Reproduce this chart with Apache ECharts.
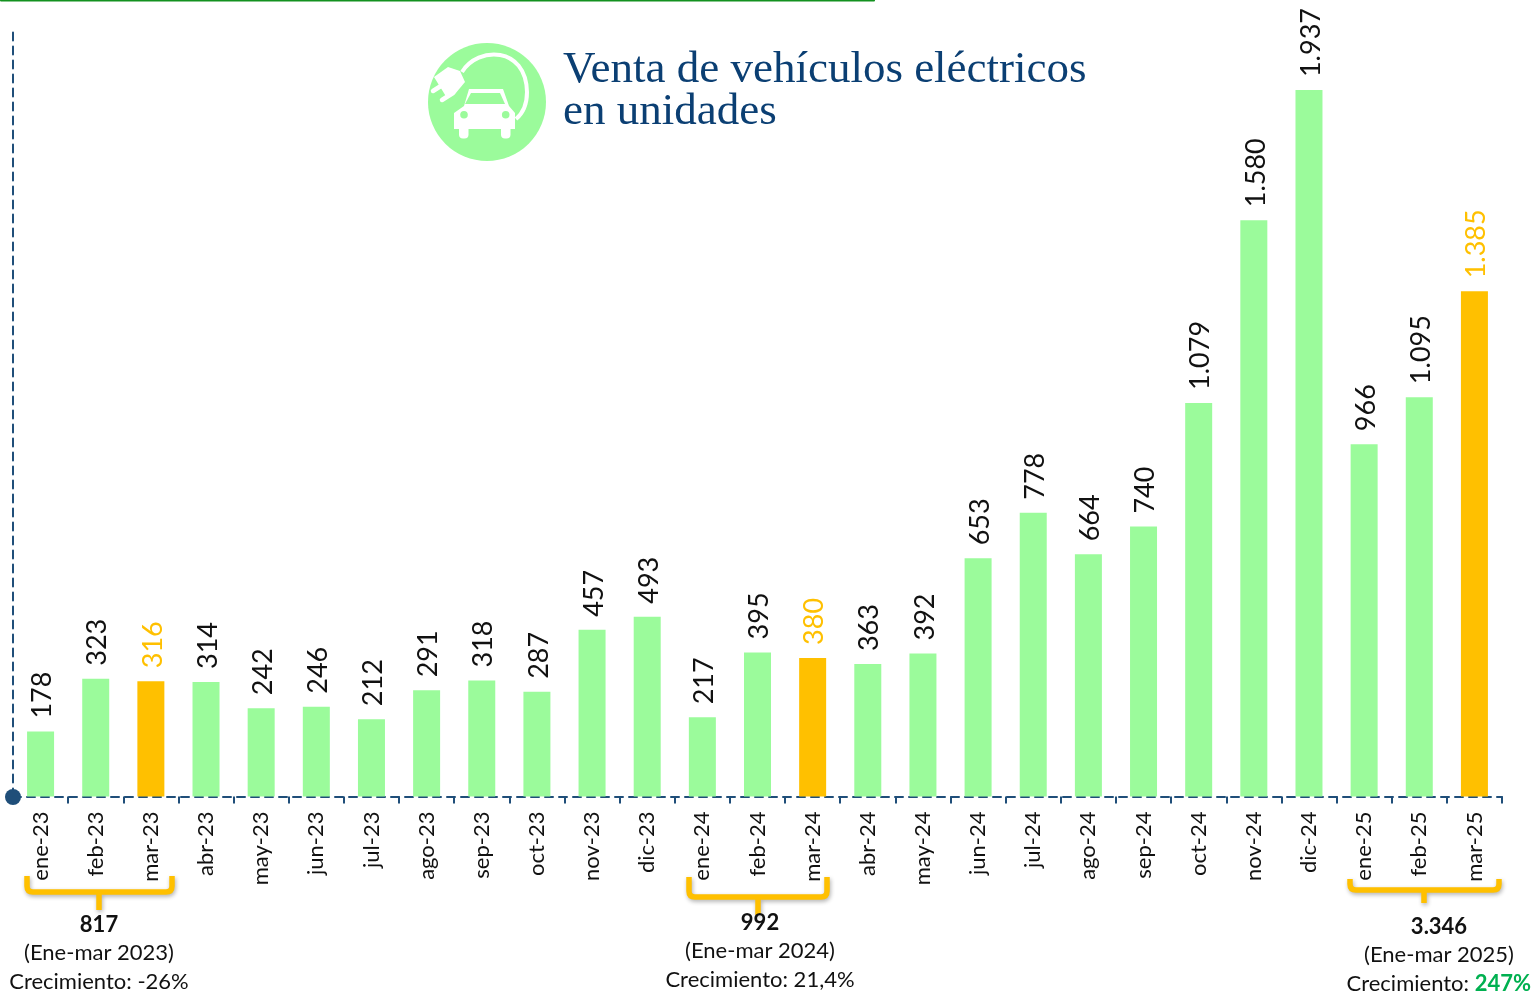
<!DOCTYPE html>
<html>
<head>
<meta charset="utf-8">
<style>html,body{margin:0;padding:0;background:#fff}#c{width:1533px;height:993px}</style>
<script src="https://cdn.jsdelivr.net/npm/echarts@6/dist/echarts.min.js"></script>
</head>
<body>
<div id="c"></div>
<script>
const categories = ['ene-23','feb-23','mar-23','abr-23','may-23','jun-23','jul-23','ago-23','sep-23','oct-23','nov-23','dic-23','ene-24','feb-24','mar-24','abr-24','may-24','jun-24','jul-24','ago-24','sep-24','oct-24','nov-24','dic-24','ene-25','feb-25','mar-25'];
const ventas = [178,323,316,314,242,246,212,291,318,287,457,493,217,395,380,363,392,653,778,664,740,1079,1580,1937,966,1095,1385];
const destacados = ['mar-23','mar-24','mar-25'];
const titulo = ['Venta de vehículos eléctricos','en unidades'];

const GREEN='#9BFB9B', ORANGE='#FFC000', NAVY='#1F4E79', TITLE='#0B3F73';
const SANS='Lato, Carlito, "Noto Sans", sans-serif';
const fmt=v=>String(v).replace(/\B(?=(\d{3})+$)/g,'.');

let pathCount=0;
function pathEl(d,style){
  const name='p'+(pathCount++);
  echarts.graphic.registerShape(name,echarts.graphic.extendPath(d,{}));
  return {type:name,silent:true,style};
}
function brace(x1,x2,top,mid,xs,bot){
  const r=6;
  return pathEl(`M${x1} ${top}V${mid-r}Q${x1} ${mid} ${x1+r} ${mid}H${x2-r}Q${x2} ${mid} ${x2} ${mid-r}V${top}M${xs} ${mid}V${bot}`,
    {fill:null,stroke:ORANGE,lineWidth:5.5,shadowColor:'rgba(0,0,0,0.3)',shadowBlur:4,shadowOffsetX:1,shadowOffsetY:2});
}
const F='22px '+SANS, FB='bold 22px '+SANS;
function txt(x,y,t,o){return {type:'text',silent:true,x,y,style:Object.assign({text:t,fill:'#111',font:F,textAlign:'center',textVerticalAlign:'middle'},o||{})};}

const icono=[
  {type:'circle',silent:true,shape:{cx:487,cy:102,r:59},style:{fill:GREEN}},
  pathEl('M462 72C478 46 526 46 527 92C527 106 522 114 516 119',{fill:null,stroke:'#fff',lineWidth:4}),
  {type:'polygon',silent:true,shape:{points:[[434,77],[448,67],[460,71],[465,82],[455,94],[447,98]]},style:{fill:'#fff'}},
  {type:'line',silent:true,shape:{x1:444,y1:84,x2:433,y2:91},style:{stroke:'#fff',lineWidth:4.5,lineCap:'round'}},
  {type:'line',silent:true,shape:{x1:453,y1:93,x2:442,y2:100},style:{stroke:'#fff',lineWidth:4.5,lineCap:'round'}},
  {type:'polygon',silent:true,shape:{points:[[454,113],[464,106],[469,89],[503,89],[509,106],[515,113],[515,129],[454,129]]},style:{fill:'#fff'}},
  {type:'polygon',silent:true,shape:{points:[[465,104],[471,93],[500,93],[505,104]]},style:{fill:GREEN}},
  {type:'circle',silent:true,shape:{cx:464,cy:114.7,r:3.8},style:{fill:GREEN}},
  {type:'circle',silent:true,shape:{cx:505.7,cy:114.7,r:3.8},style:{fill:GREEN}},
  {type:'rect',silent:true,shape:{x:459,y:128,width:9.5,height:10.5,r:[0,0,4,4]},style:{fill:'#fff'}},
  {type:'rect',silent:true,shape:{x:501,y:128,width:9.5,height:10.5,r:[0,0,4,4]},style:{fill:'#fff'}}
];

const chart=echarts.init(document.getElementById('c'),null,{renderer:'canvas'});
chart.setOption({
  animation:false,
  backgroundColor:'#fff',
  grid:{left:13,right:31,top:30.6,bottom:196.5},
  xAxis:{type:'category',data:categories,boundaryGap:true,
    axisLine:{show:true,lineStyle:{color:NAVY,width:2,type:[8,6]}},
    axisTick:{show:true,length:7,inside:false,alignWithLabel:false,lineStyle:{color:NAVY,width:2}},
    axisLabel:{interval:0,rotate:90,margin:15,color:'#111',fontSize:22,fontFamily:SANS}},
  yAxis:{type:'value',min:0,max:2100,splitLine:{show:false},axisLabel:{show:false},axisTick:{show:false},
    axisLine:{show:true,onZero:false,lineStyle:{color:NAVY,width:2,type:[8,6]}}},
  series:[{type:'bar',barWidth:27,
    data:ventas.map((v,i)=>{const h=destacados.includes(categories[i]);
      return {value:v,itemStyle:{color:h?ORANGE:GREEN},label:{color:h?ORANGE:'#111'}};}),
    label:{show:true,position:'top',distance:13,rotate:90,align:'left',verticalAlign:'middle',offset:[0,2],fontSize:27,fontFamily:SANS,formatter:p=>fmt(p.value)}}],
  graphic:[
    {type:'rect',silent:true,shape:{x:0,y:-1,width:875,height:2.5,r:1},style:{fill:'#13911F'}},
    {type:'circle',silent:true,shape:{cx:13,cy:797,r:8},style:{fill:NAVY}},
    ...icono,
    txt(563,70,titulo[0],{fill:TITLE,font:'45px "Liberation Serif", serif',textAlign:'left'}),
    txt(563,112,titulo[1],{fill:TITLE,font:'45px "Liberation Serif", serif',textAlign:'left'}),
    brace(27,172,876,892,99,910),
    brace(689,827,877,897,758,915),
    brace(1350,1499,879,890,1424,903),
    txt(99,925,'817',{font:FB}),
    txt(99,953,'(Ene-mar 2023)'),
    txt(99,982,'Crecimiento: -26%'),
    txt(760,923,'992',{font:FB}),
    txt(760,951,'(Ene-mar 2024)'),
    txt(760,980,'Crecimiento: 21,4%'),
    txt(1439,927,'3.346',{font:FB}),
    txt(1439,955,'(Ene-mar 2025)'),
    {type:'text',silent:true,x:1531,y:984,style:{
      text:'{a|Crecimiento: }{b|247%}',textAlign:'right',textVerticalAlign:'middle',
      rich:{a:{font:F,fill:'#111'},b:{font:FB,fill:'#00B050'}}}}
  ]
});
</script>
</body>
</html>
